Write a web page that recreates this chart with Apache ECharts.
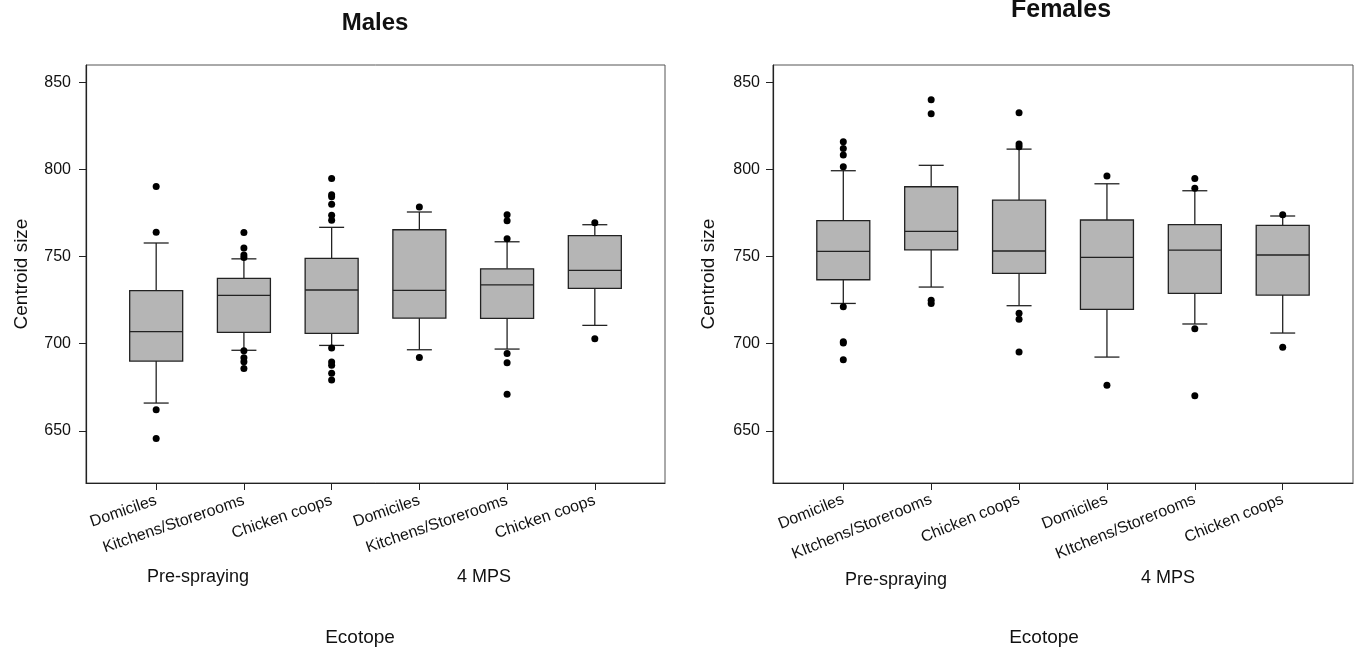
<!DOCTYPE html>
<html>
<head>
<meta charset="utf-8">
<script src="https://cdn.jsdelivr.net/npm/echarts@6/dist/echarts.min.js"></script>
<style>
html,body{margin:0;padding:0;background:#fff;}
#chart{width:1362px;height:654px;}
</style>
</head>
<body>
<div id="chart"></div>
<script>
// ---------- data ----------
const maleCategories = ['Domiciles', 'Kitchens/Storerooms', 'Chicken coops', 'Domiciles', 'Kitchens/Storerooms', 'Chicken coops'];
const femaleCategories = ['Domiciles', 'KItchens/Storerooms', 'Chicken coops', 'Domiciles', 'KItchens/Storerooms', 'Chicken coops'];
const periodLabels = ['Pre-spraying', '4 MPS'];
const yTicks = [650, 700, 750, 800, 850];

// [lower whisker, Q1, median, Q3, upper whisker]
const maleBoxes = [
  [665.9, 690.0, 706.9, 730.4, 757.8],
  [696.2, 706.5, 727.7, 737.5, 748.7],
  [699.0, 705.9, 730.8, 749.0, 766.8],
  [696.5, 714.7, 730.6, 765.4, 775.6],
  [696.9, 714.5, 733.8, 743.0, 758.5],
  [710.5, 731.8, 742.1, 762.0, 768.3]
];
const maleOutliers = [
  [790.3, 763.9, 662.1, 645.6],
  [763.8, 754.9, 750.9, 749.5, 696.0, 691.9, 689.6, 685.8],
  [794.9, 785.5, 784.3, 780.1, 773.8, 770.8, 697.5, 689.5, 687.6, 683.0, 679.1],
  [778.4, 692.1],
  [774.0, 770.6, 760.2, 694.4, 689.1, 671.0],
  [769.4, 702.8]
];
const femaleBoxes = [
  [723.1, 736.7, 753.0, 770.6, 799.3],
  [732.5, 753.9, 764.5, 790.1, 802.4],
  [721.8, 740.4, 753.2, 782.4, 811.7],
  [692.3, 719.7, 749.5, 771.0, 791.8],
  [711.3, 728.9, 753.7, 768.3, 787.8],
  [706.1, 727.9, 750.9, 767.9, 773.3]
];
const femaleOutliers = [
  [815.9, 812.1, 808.3, 801.6, 721.2, 701.1, 700.4, 690.8],
  [840.0, 832.0, 725.0, 723.1],
  [832.6, 814.6, 813.0, 717.4, 714.0, 695.2],
  [796.2, 676.1],
  [794.9, 789.3, 708.6, 670.1],
  [774.0, 697.9]
];

// ---------- chart ----------
const FONT = '"Liberation Sans", Arial, Helvetica, sans-serif';
const positions = [1, 2, 3, 4, 5, 6];

function boxData(boxes) { return boxes.map((b, i) => [positions[i]].concat(b)); }
function outlierData(outs) {
  const res = [];
  outs.forEach((arr, i) => arr.forEach(v => res.push([positions[i], v])));
  return res;
}

function renderBox(params, api) {
  const x = api.value(0);
  const pLo = api.coord([x, api.value(1)]);
  const pQ1 = api.coord([x, api.value(2)]);
  const pMed = api.coord([x, api.value(3)]);
  const pQ3 = api.coord([x, api.value(4)]);
  const pHi = api.coord([x, api.value(5)]);
  const cx = pMed[0];
  const bw = 53, cw = 25;
  const ls = { stroke: '#222', lineWidth: 1.3, fill: null };
  return {
    type: 'group',
    children: [
      { type: 'line', shape: { x1: cx, y1: pHi[1], x2: cx, y2: pQ3[1] }, style: ls },
      { type: 'line', shape: { x1: cx, y1: pQ1[1], x2: cx, y2: pLo[1] }, style: ls },
      { type: 'line', shape: { x1: cx - cw / 2, y1: pHi[1], x2: cx + cw / 2, y2: pHi[1] }, style: ls },
      { type: 'line', shape: { x1: cx - cw / 2, y1: pLo[1], x2: cx + cw / 2, y2: pLo[1] }, style: ls },
      { type: 'rect', shape: { x: cx - bw / 2, y: pQ3[1], width: bw, height: pQ1[1] - pQ3[1] },
        style: { fill: '#b5b5b5', stroke: '#222', lineWidth: 1.3 } },
      { type: 'line', shape: { x1: cx - bw / 2, y1: pMed[1], x2: cx + bw / 2, y2: pMed[1] }, style: ls }
    ]
  };
}

function xAxisFor(gridIndex, cats, rotate, margin) {
  return {
    type: 'value', gridIndex: gridIndex, min: 0.2, max: 6.8,
    splitLine: { show: false },
    axisLine: { show: true, lineStyle: { color: '#222', width: 1.2 } },
    axisTick: { show: true, length: 7, lineStyle: { color: '#222' }, customValues: positions },
    axisLabel: {
      customValues: positions, rotate: rotate, margin: margin,
      fontFamily: FONT, fontSize: 16, color: '#111',
      formatter: v => cats[Math.round(v) - 1]
    }
  };
}
function yAxisFor(gridIndex, margin) {
  return {
    type: 'value', gridIndex: gridIndex, min: 620, max: 860,
    name: 'Centroid size', nameLocation: 'middle', nameGap: 55,
    nameTextStyle: { fontFamily: FONT, fontSize: 19, color: '#111' },
    splitLine: { show: false },
    axisLine: { show: true, lineStyle: { color: '#222', width: 1.2 } },
    axisTick: { show: true, length: 7, lineStyle: { color: '#222' }, customValues: yTicks },
    axisLabel: { customValues: yTicks, margin: margin, fontFamily: FONT, fontSize: 16, color: '#111' }
  };
}

function txt(text, x, y, size, bold) {
  return {
    type: 'text', x: x, y: y, silent: true,
    style: { text: text, fill: '#111', font: (bold ? 'bold ' : '') + size + 'px ' + FONT,
             align: 'center', verticalAlign: 'middle' }
  };
}

const chart = echarts.init(document.getElementById('chart'), null, { renderer: 'canvas' });
chart.setOption({
  backgroundColor: '#fff',
  animation: false,
  grid: [
    { left: 86, top: 65, width: 579, height: 418, show: true, borderColor: '#555', borderWidth: 1, backgroundColor: '#fff' },
    { left: 773, top: 65, width: 580, height: 418, show: true, borderColor: '#555', borderWidth: 1, backgroundColor: '#fff' }
  ],
  xAxis: [xAxisFor(0, maleCategories, 19, 17), xAxisFor(1, femaleCategories, 22, 16)],
  yAxis: [yAxisFor(0, 15), yAxisFor(1, 13)],
  series: [
    { type: 'custom', xAxisIndex: 0, yAxisIndex: 0, renderItem: renderBox, data: boxData(maleBoxes), encode: { x: 0, y: [1, 2, 3, 4, 5] } },
    { type: 'scatter', xAxisIndex: 0, yAxisIndex: 0, data: outlierData(maleOutliers), symbolSize: 7, itemStyle: { color: '#000', opacity: 1 }, z: 5 },
    { type: 'custom', xAxisIndex: 1, yAxisIndex: 1, renderItem: renderBox, data: boxData(femaleBoxes), encode: { x: 0, y: [1, 2, 3, 4, 5] } },
    { type: 'scatter', xAxisIndex: 1, yAxisIndex: 1, data: outlierData(femaleOutliers), symbolSize: 7, itemStyle: { color: '#000', opacity: 1 }, z: 5 }
  ],
  graphic: [
    txt('Males', 375, 23, 24, true),
    txt('Females', 1061, 10, 25, true),
    txt(periodLabels[0], 198, 577, 18, false),
    txt(periodLabels[1], 484, 577, 18, false),
    txt(periodLabels[0], 896, 580, 18, false),
    txt(periodLabels[1], 1168, 578, 18, false),
    txt('Ecotope', 360, 638, 19, false),
    txt('Ecotope', 1044, 638, 19, false)
  ]
});
</script>
</body>
</html>
